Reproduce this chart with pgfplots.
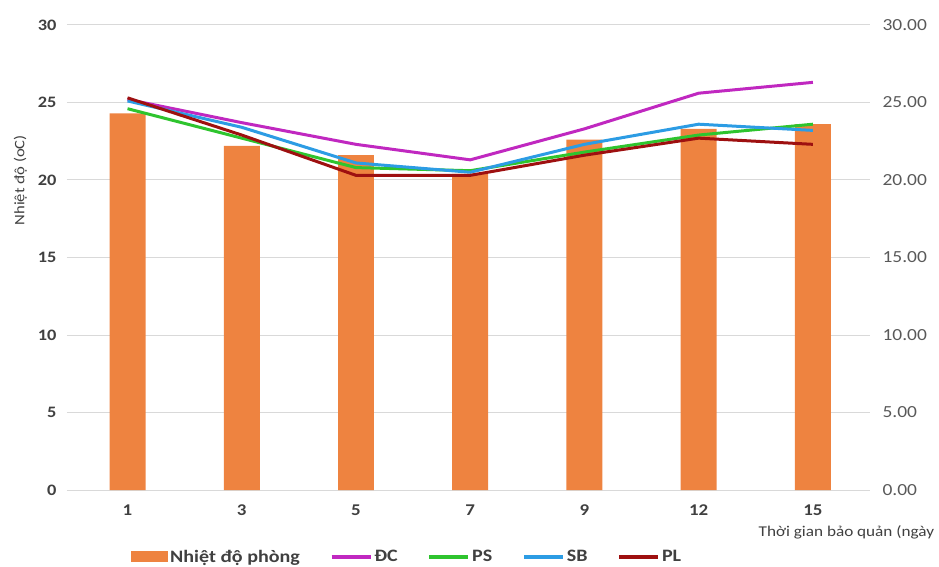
\documentclass[border=0pt]{standalone}
\usepackage{pgfplots}
\pgfplotsset{compat=1.18}
\usepackage{fontspec}
\setmainfont{Carlito}[FakeStretch=1.15]
\definecolor{barorange}{HTML}{EE8340}
\definecolor{dcmag}{HTML}{C028C0}
\definecolor{psgreen}{HTML}{2EC42E}
\definecolor{sbblue}{HTML}{2C9CE4}
\definecolor{plred}{HTML}{9E1010}
\definecolor{gridgray}{HTML}{D9D9D9}
\definecolor{txtdark}{HTML}{404040}
\definecolor{txtgray}{HTML}{595959}
\begin{document}
\begin{tikzpicture}
\begin{axis}[
  scale only axis,
  width=803bp, height=465bp,
  xmin=-0.53, xmax=6.5,
  ymin=0, ymax=30,
  ytick={0,5,...,30},
  xtick={0,1,2,3,4,5,6},
  xticklabels={1,3,5,7,9,12,15},
  axis line style={draw=none},
  major tick length=0pt,
  ymajorgrids, grid style={gridgray, line width=1bp},
  yticklabel style={font=\fontsize{16}{16}\selectfont\bfseries, text=txtdark, xshift=-7bp},
  xticklabel style={font=\fontsize{16.5}{16.5}\selectfont\bfseries, text=txtdark, yshift=-11bp},
  /pgf/number format/assume math mode=true,
  ylabel={Nhiệt độ (oC)},
  ylabel style={font=\fontsize{14.5}{14.5}\selectfont, text=txtdark, at={(axis description cs:-0.058,0.666)}, anchor=center},
  xlabel={Thời gian bảo quản (ngày},
  xlabel style={font=\fontsize{15}{15}\selectfont, text=txtdark, at={(axis description cs:0.857,-0.090)}, anchor=west},
  legend columns=5,
  legend style={draw=none, fill=none, at={(axis description cs:0.076,-0.144)}, anchor=west,
    font=\fontsize{17.5}{17.5}\selectfont\bfseries, text=txtdark,
    /tikz/every even column/.append style={column sep=28bp}},
  legend cell align=left,
]
\addplot[ybar, bar width=0.315, bar shift=0pt, fill=barorange, draw=none,
  legend image code/.code={\fill[barorange] (0bp,-5bp) rectangle (37bp,6bp);}]
  coordinates {(0,24.3) (1,22.2) (2,21.6) (3,20.4) (4,22.6) (5,23.3) (6,23.6)};
\addlegendentry{Nhiệt độ phòng\hspace{16bp}}
\addplot[dcmag, line width=3bp,
  legend image code/.code={\draw[dcmag, line width=3.5bp] (0bp,0bp) -- (39bp,0bp);}]
  coordinates {(0,25.2) (1,23.7) (2,22.3) (3,21.3) (4,23.3) (5,25.6) (6,26.3)};
\addlegendentry{ĐC}
\addplot[psgreen, line width=3bp,
  legend image code/.code={\draw[psgreen, line width=3.5bp] (0bp,0bp) -- (39bp,0bp);}]
  coordinates {(0,24.6) (1,22.7) (2,20.8) (3,20.6) (4,21.8) (5,22.9) (6,23.6)};
\addlegendentry{PS}
\addplot[sbblue, line width=3bp,
  legend image code/.code={\draw[sbblue, line width=3.5bp] (0bp,0bp) -- (39bp,0bp);}]
  coordinates {(0,25.1) (1,23.4) (2,21.1) (3,20.5) (4,22.3) (5,23.6) (6,23.2)};
\addlegendentry{SB}
\addplot[plred, line width=3bp,
  legend image code/.code={\draw[plred, line width=3.5bp] (0bp,0bp) -- (39bp,0bp);}]
  coordinates {(0,25.3) (1,22.9) (2,20.3) (3,20.3) (4,21.6) (5,22.7) (6,22.3)};
\addlegendentry{PL}
\end{axis}
\begin{axis}[
  scale only axis,
  width=803bp, height=465bp,
  xmin=-0.53, xmax=6.5,
  ymin=0, ymax=30,
  ytick={0,5,...,30},
  axis y line*=right,
  axis x line=none,
  axis line style={draw=none},
  major tick length=0pt,
  yticklabel style={font=\fontsize{17}{17}\selectfont, text=txtgray, xshift=9bp,
    /pgf/number format/.cd, fixed, fixed zerofill, precision=2},
  /pgf/number format/assume math mode=true,
]
\addplot[draw=none] coordinates {(0,0)};
\end{axis}
\pgfresetboundingbox
\path[use as bounding box] (current axis.south west) ++(-67bp,-77bp) rectangle ++(939bp,567bp);
\end{tikzpicture}
\end{document}
